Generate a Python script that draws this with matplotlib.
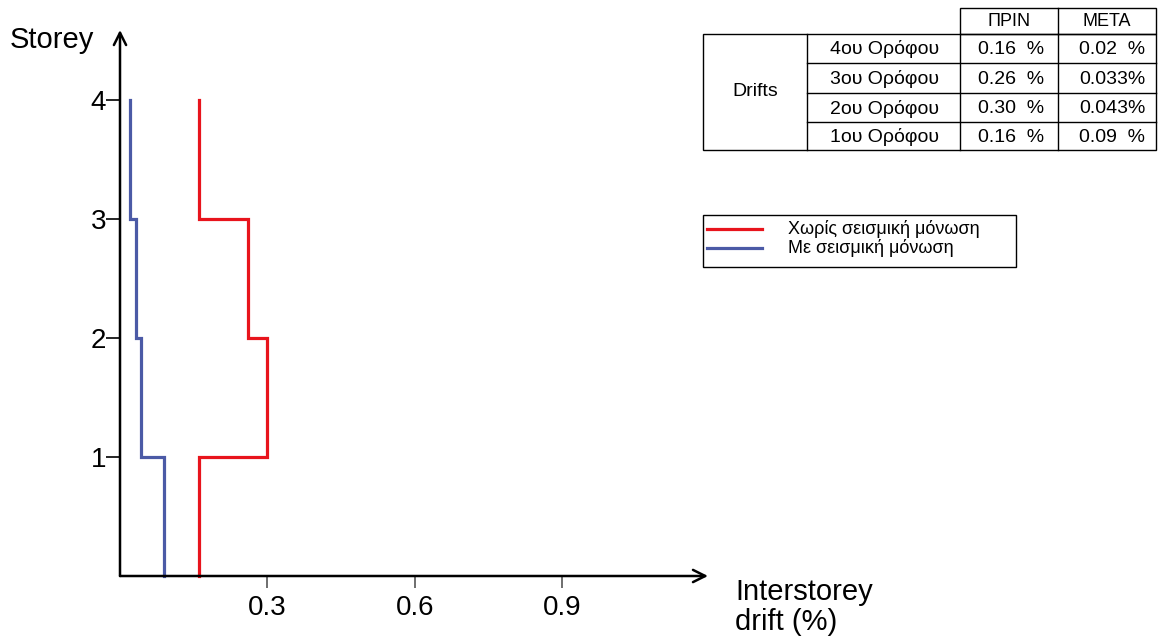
import numpy as np
import matplotlib.pyplot as plt
from matplotlib.patches import Rectangle

plt.rcParams['font.family'] = ['Liberation Sans', 'DejaVu Sans']

# Storey levels and interstorey drifts (%)
storeys = [1, 2, 3, 4]
drift_without = [0.16, 0.30, 0.26, 0.16]   # without seismic isolation
drift_with = [0.09, 0.043, 0.033, 0.02]     # with seismic isolation
x_ticks = [0.3, 0.6, 0.9]

series_labels = ['Χωρίς σεισμική μόνωση', 'Με σεισμική μόνωση']
series_colors = ['#e8141c', '#4b5aa6']

# Summary table
table_header = ['ΠΡΙΝ', 'ΜΕΤΑ']
table_group = 'Drifts'
table_rows = ['4ου Ορόφου', '3ου Ορόφου', '2ου Ορόφου', '1ου Ορόφου']
table_before = ['0.16  %', '0.26  %', '0.30  %', '0.16  %']
table_after = ['0.02  %', '0.033%', '0.043%', '0.09  %']

W, H = 1160, 639
fig = plt.figure(figsize=(W / 100, H / 100), dpi=100)

x0, x1 = 120, 708
y0, y1 = 576, 30
ax = fig.add_axes([x0 / W, 1 - y0 / H, (x1 - x0) / W, (y0 - y1) / H])
xmax, ymax = 1.196, 4.59
ax.set_xlim(0, xmax)
ax.set_ylim(0, ymax)
for s in ax.spines.values():
    s.set_visible(False)


def step_profile(drifts):
    xs = np.repeat(drifts, 2)
    ys = np.repeat(np.arange(len(drifts) + 1), 2)[1:-1]
    return xs, ys


for d, c in zip([drift_without, drift_with], series_colors):
    xs, ys = step_profile(d)
    ax.plot(xs, ys, color=c, lw=2.3, solid_joinstyle='miter', clip_on=False, zorder=3)

# Axes drawn as arrows
arrow = dict(arrowstyle='->', lw=1.8, color='black', mutation_scale=22, shrinkA=0, shrinkB=0)
ax.annotate('', xy=(xmax, 0), xytext=(0, 0), xycoords='data', arrowprops=arrow, annotation_clip=False)
ax.annotate('', xy=(0, ymax), xytext=(0, 0), xycoords='data', arrowprops=arrow, annotation_clip=False)

ax.set_xticks(x_ticks)
ax.set_xticklabels([f'{v:.1f}' for v in x_ticks])
ax.tick_params(axis='x', direction='out', length=8.5, width=1.2, color='#555555',
               labelsize=20, pad=5)
ax.set_yticks(storeys)
ax.set_yticklabels([str(s) for s in storeys])
ax.tick_params(axis='y', direction='out', length=10, width=1.2, color='black',
               labelsize=20, pad=0)

fig.text(10 / W, 1 - 40 / H, 'Storey', fontsize=21, va='center', ha='left')
fig.text(735 / W, 1 - 607 / H, 'Interstorey\ndrift (%)', fontsize=21, va='center',
         ha='left', linespacing=1.1)

# Overlay in pixel coordinates for the table and legend box
ov = fig.add_axes([0, 0, 1, 1], facecolor='none')
ov.set_xlim(0, W)
ov.set_ylim(H, 0)
ov.axis('off')

lw_t = 1.0
cols = [703, 807, 960, 1058, 1156]
rows = [34, 63, 93, 122, 150]
top = 8
# header
ov.add_patch(Rectangle((cols[2], top), cols[4] - cols[2], rows[0] - top, fill=False, lw=lw_t, ec='black'))
ov.plot([cols[3], cols[3]], [top, rows[0]], color='black', lw=lw_t)
# body
ov.add_patch(Rectangle((cols[0], rows[0]), cols[4] - cols[0], rows[-1] - rows[0], fill=False, lw=lw_t, ec='black'))
for c in cols[1:4]:
    ov.plot([c, c], [rows[0], rows[-1]], color='black', lw=lw_t)
for r in rows[1:-1]:
    ov.plot([cols[1], cols[4]], [r, r], color='black', lw=lw_t)

fs_t = 14
ov.text((cols[2] + cols[3]) / 2, (top + rows[0]) / 2 + 1, table_header[0], ha='center', va='center', fontsize=13)
ov.text((cols[3] + cols[4]) / 2, (top + rows[0]) / 2 + 1, table_header[1], ha='center', va='center', fontsize=13)
ov.text((cols[0] + cols[1]) / 2, (rows[0] + rows[-1]) / 2, table_group, ha='center', va='center', fontsize=fs_t)
for i, (lab, b, a) in enumerate(zip(table_rows, table_before, table_after)):
    yc = (rows[i] + rows[i + 1]) / 2 + 1
    ov.text((cols[1] + cols[2]) / 2 + 1, yc, lab, ha='center', va='center', fontsize=fs_t)
    ov.text((cols[2] + cols[3]) / 2 + 2, yc, b, ha='center', va='center', fontsize=fs_t)
    ov.text((cols[3] + cols[4]) / 2 + 5, yc, a, ha='center', va='center', fontsize=fs_t)

# Legend box
ov.add_patch(Rectangle((703, 215), 313, 52, fill=False, lw=1.0, ec='black'))
for i, (lab, c) in enumerate(zip(series_labels, series_colors)):
    yy = 229 + i * 19
    ov.plot([707, 762], [yy, yy], color=c, lw=2.3)
    ov.text(788, yy, lab, ha='left', va='center', fontsize=13)

fig.savefig('out.png', dpi=100)
